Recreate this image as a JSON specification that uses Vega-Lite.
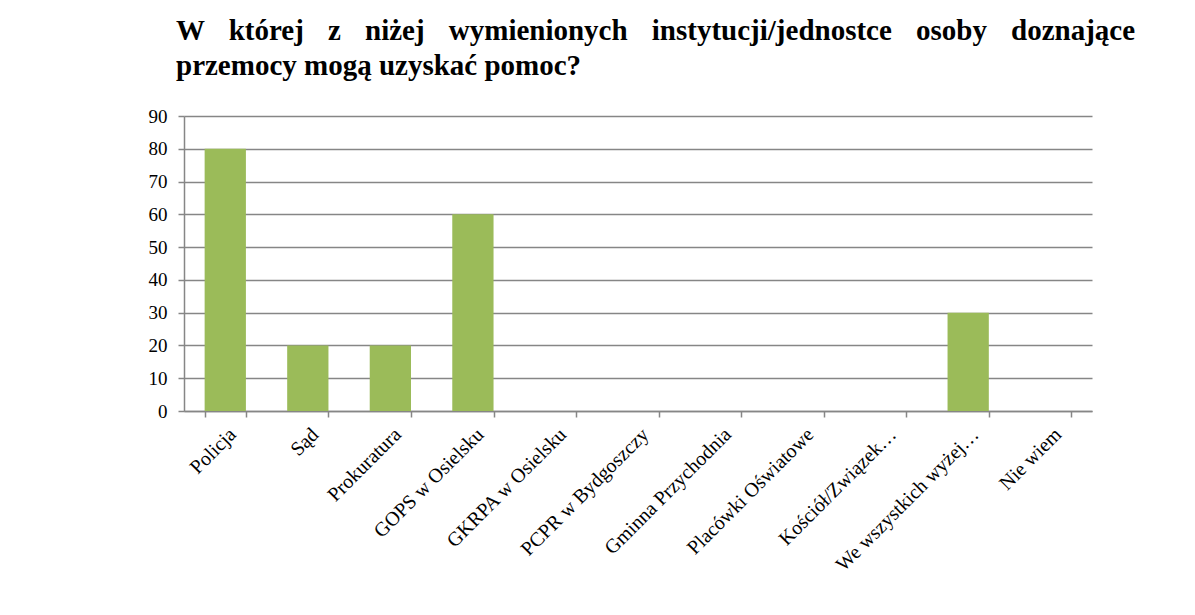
{
  "$schema": "https://vega.github.io/schema/vega-lite/v6.json",
  "width": 908,
  "height": 295,
  "autosize": {"type": "none"},
  "padding": {"left": 184, "top": 116, "right": 103, "bottom": 204},
  "background": "white",
  "title": {
    "text": ["W \u2002\u200aktórej \u2002\u200az \u2002\u200aniżej \u2002\u200awymienionych \u2002\u200ainstytucji/jednostce \u2002\u200aosoby \u2002\u200adoznające", "przemocy mogą uzyskać pomoc?"],
    "anchor": "start",
    "frame": "group",
    "dx": -8,
    "offset": 26,
    "font": "Liberation Serif, serif",
    "fontSize": 29,
    "fontWeight": "bold",
    "color": "black",
    "lineHeight": 35
  },
  "data": {
    "values": [
      {"instytucja": "Policja", "wartosc": 80},
      {"instytucja": "Sąd", "wartosc": 20},
      {"instytucja": "Prokuratura", "wartosc": 20},
      {"instytucja": "GOPS w Osielsku", "wartosc": 60},
      {"instytucja": "GKRPA w Osielsku", "wartosc": 0},
      {"instytucja": "PCPR w Bydgoszczy", "wartosc": 0},
      {"instytucja": "Gminna Przychodnia", "wartosc": 0},
      {"instytucja": "Placówki Oświatowe", "wartosc": 0},
      {"instytucja": "Kościół/Związek…", "wartosc": 0},
      {"instytucja": "We wszystkich wyżej…", "wartosc": 30},
      {"instytucja": "Nie wiem", "wartosc": 0}
    ]
  },
  "mark": {"type": "bar", "color": "#9BBB59"},
  "encoding": {
    "x": {
      "field": "instytucja",
      "type": "nominal",
      "sort": null,
      "scale": {"paddingInner": 0.5, "paddingOuter": 0.25},
      "axis": {
        "title": null,
        "labelAngle": -45,
        "labelFont": "Liberation Serif, serif",
        "labelFontSize": 20,
        "labelColor": "black",
        "labelPadding": 7,
        "labelLimit": 0,
        "tickBand": "extent",
        "tickColor": "#868686",
        "tickWidth": 1.5,
        "tickSize": 6,
        "domainColor": "#868686",
        "domainWidth": 1.5,
        "grid": false
      }
    },
    "y": {
      "field": "wartosc",
      "type": "quantitative",
      "scale": {"domain": [0, 90], "nice": false},
      "axis": {
        "title": null,
        "values": [0, 10, 20, 30, 40, 50, 60, 70, 80, 90],
        "labelFont": "Liberation Serif, serif",
        "labelFontSize": 19,
        "labelColor": "black",
        "labelPadding": 11,
        "tickColor": "#868686",
        "tickWidth": 1.5,
        "tickSize": 6,
        "domainColor": "#868686",
        "domainWidth": 1.5,
        "grid": true,
        "gridColor": "#868686",
        "gridWidth": 1.5
      }
    }
  },
  "config": {"view": {"stroke": null}}
}
